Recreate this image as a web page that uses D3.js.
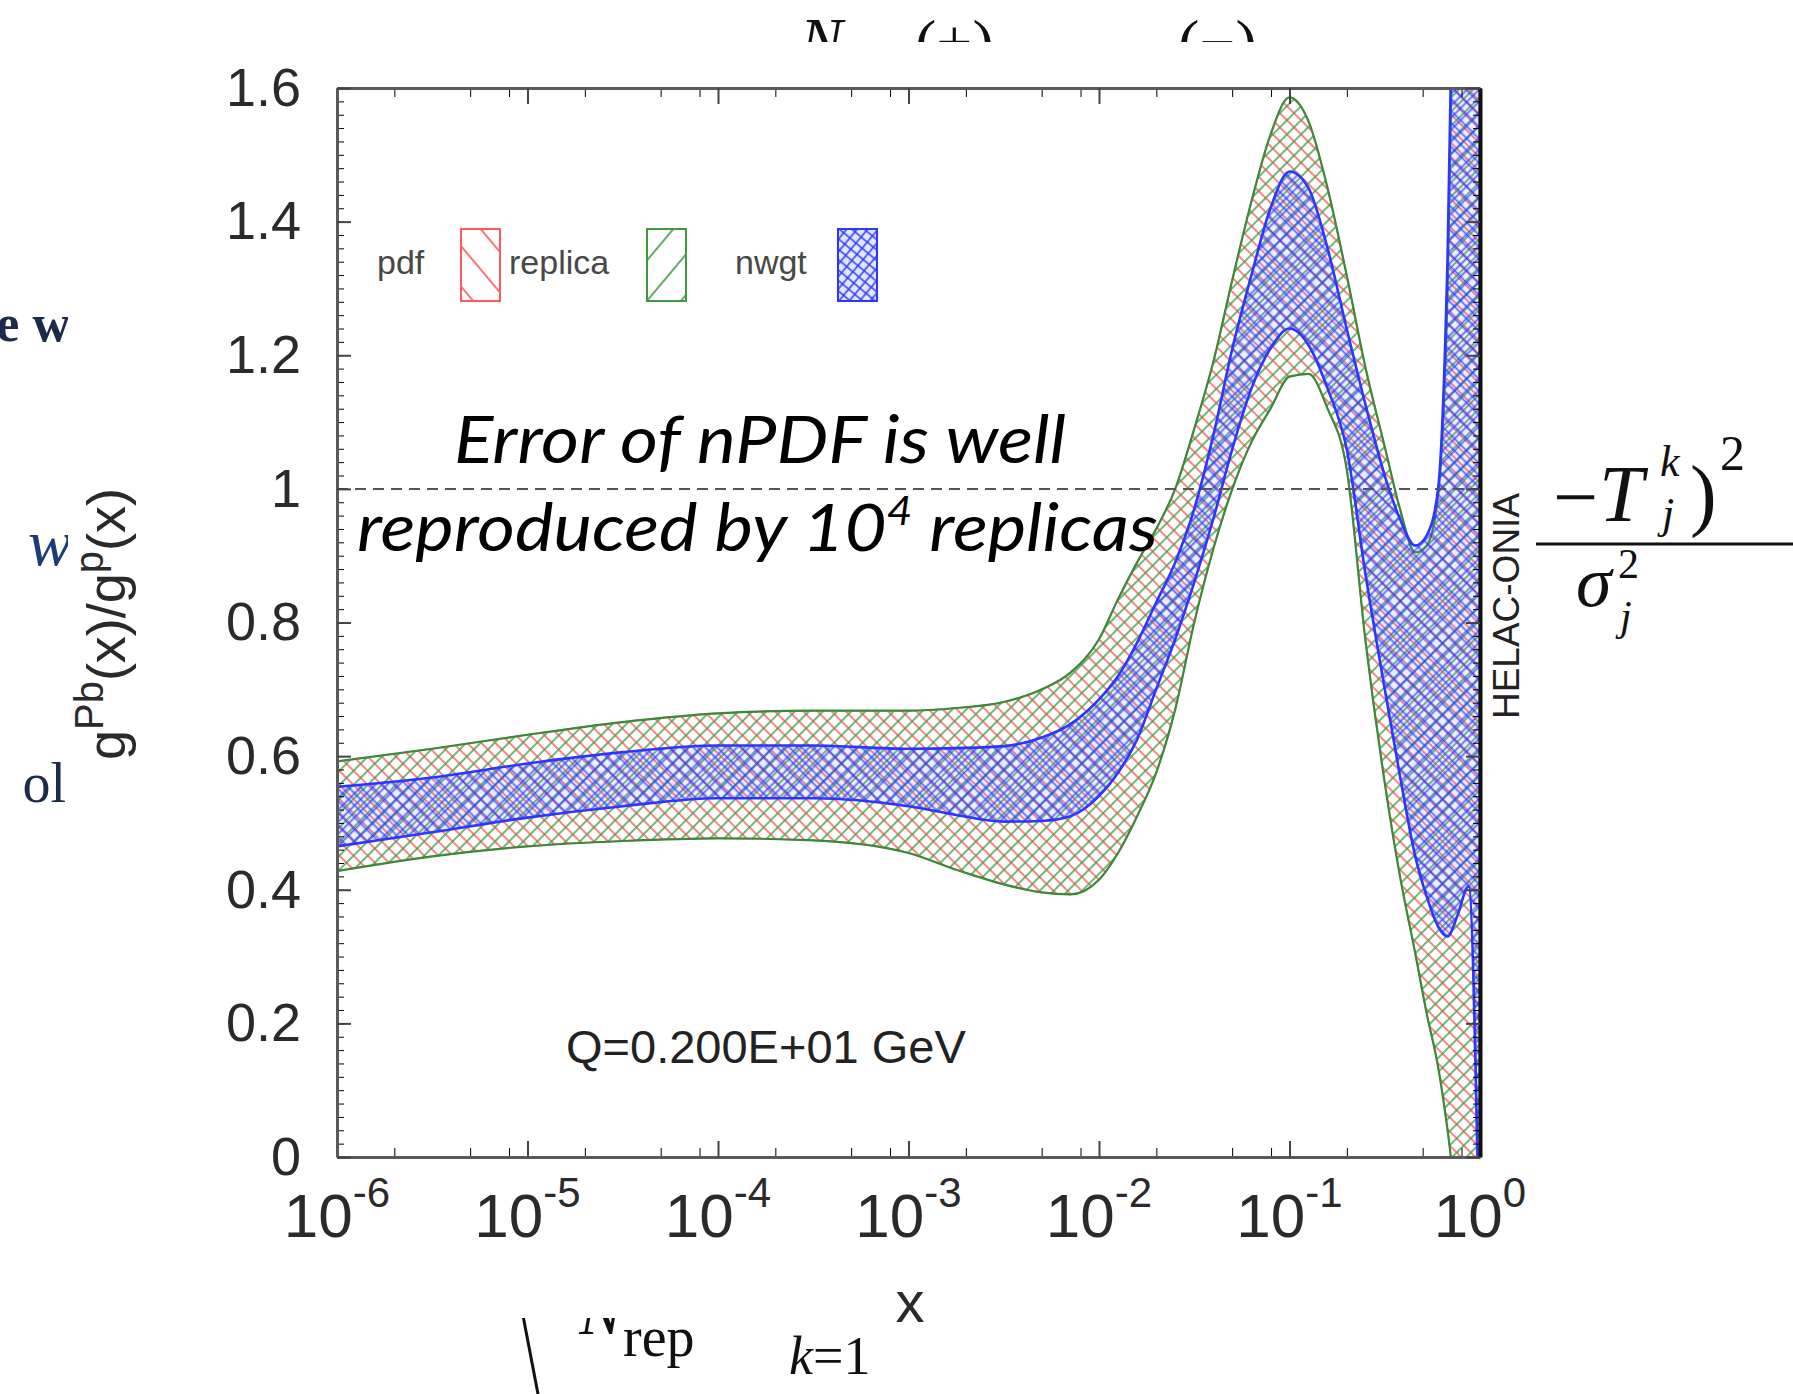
<!DOCTYPE html>
<html>
<head>
<meta charset="utf-8">
<title>g Pb / g p ratio</title>
<script src="https://cdn.jsdelivr.net/npm/d3@7"></script>
<style>
  body { margin: 0; background: #fff; }
  svg { font-family: "Liberation Sans", Arial, sans-serif; }
</style>
</head>
<body>
<svg id="chart" width="1793" height="1394"></svg>
<script>
// log10(x) grid shared by every band
const logX = [-6, -5.5, -5, -4.5, -4, -3.5, -3, -2.75, -2.5, -2.3, -2.15, -2, -1.9, -1.8, -1.7, -1.6, -1.5, -1.4,
  -1.3, -1.2, -1.1, -1, -0.9, -0.8, -0.7, -0.6, -0.5, -0.42, -0.34, -0.28, -0.22, -0.17, -0.12, -0.06, 0];

// pdf error band (the replica band lies on top of it)
const pdfHigh = [0.592, 0.611, 0.632, 0.651, 0.664, 0.668, 0.668, 0.672, 0.681, 0.700, 0.725, 0.775, 0.835, 0.89,
  0.94, 1.00, 1.09, 1.19, 1.313, 1.43, 1.53, 1.586, 1.55, 1.45, 1.32, 1.18, 1.063, 0.97, 0.905, 0.915, 0.99, 1.3,
  2.1, 2.7, 3.2];
const pdfLow = [0.428, 0.45, 0.465, 0.473, 0.477, 0.474, 0.455, 0.43, 0.408, 0.396, 0.393, 0.415, 0.455, 0.51,
  0.575, 0.67, 0.80, 0.91, 1.0, 1.07, 1.12, 1.168, 1.172, 1.12, 1.03, 0.77, 0.56, 0.42, 0.305, 0.215, 0.135, 0.04,
  -0.08, -0.2, -0.3];

// reweighted band
const nwgtHigh = [0.554, 0.568, 0.589, 0.606, 0.616, 0.616, 0.611, 0.612, 0.615, 0.628, 0.648, 0.685, 0.72, 0.77,
  0.83, 0.89, 0.97, 1.08, 1.21, 1.32, 1.42, 1.475, 1.45, 1.36, 1.24, 1.125, 1.02, 0.955, 0.915, 0.93, 1.0, 1.35,
  2.15, 2.7, 3.2];
const nwgtLow = [0.465, 0.486, 0.508, 0.525, 0.537, 0.537, 0.525, 0.512, 0.502, 0.503, 0.51, 0.54, 0.575, 0.625,
  0.70, 0.775, 0.86, 0.955, 1.06, 1.15, 1.21, 1.24, 1.215, 1.15, 1.06, 0.87, 0.70, 0.57, 0.45, 0.39, 0.345, 0.33,
  0.36, 0.405, -0.2];

const yTicks = [0, 0.2, 0.4, 0.6, 0.8, 1, 1.2, 1.4, 1.6];
const xDecades = [-6, -5, -4, -3, -2, -1, 0];
const minorMult = [2, 5, 8];
const legendNames = ['pdf', 'replica', 'nwgt'];

const svg = d3.select('#chart');
const defs = svg.append('defs');

// Scales
const x = d3.scaleLog().domain([1e-6, 1]).range([337, 1480]);
const y = d3.scaleLinear().domain([0, 1.6]).range([1157, 88]);

// Hatch patterns
function addHatch(id, color, size, width, angle, cross, bg) {
  const p = defs.append('pattern')
    .attr('id', id)
    .attr('patternUnits', 'userSpaceOnUse')
    .attr('width', size)
    .attr('height', size)
    .attr('patternTransform', `rotate(${angle})`);
  if (bg) p.append('rect').attr('width', size).attr('height', size).attr('fill', bg);
  p.append('line')
    .attr('x1', size / 2).attr('y1', 0).attr('x2', size / 2).attr('y2', size)
    .attr('stroke', color).attr('stroke-width', width);
  if (cross) {
    p.append('line')
      .attr('x1', 0).attr('y1', size / 2).attr('x2', size).attr('y2', size / 2)
      .attr('stroke', color).attr('stroke-width', width);
  }
}
addHatch('h-pdf', '#ff5a5a', 10, 1.5, -45);
addHatch('h-rep', '#46a046', 10, 1.5, 45);
addHatch('h-rw', 'rgba(40,60,255,0.72)', 8.5, 1.8, 45, true, 'rgba(120,140,255,0.14)');
addHatch('h-pdf-key', '#ff5050', 26, 1.6, -40);
addHatch('h-rep-key', '#3c963c', 26, 1.6, 40);
addHatch('h-rw-key', 'rgba(40,60,255,0.75)', 8, 2, 40, true, 'rgba(110,130,255,0.2)');

defs.append('clipPath').attr('id', 'plot-clip')
  .append('rect')
  .attr('x', x.range()[0]).attr('y', y.range()[1])
  .attr('width', x.range()[1] - x.range()[0])
  .attr('height', y.range()[0] - y.range()[1]);

// Rows for the areas
const rows = logX.map((lx, i) => ({
  x: Math.pow(10, lx),
  pdfLo: pdfLow[i], pdfHi: pdfHigh[i],
  rwLo: nwgtLow[i], rwHi: nwgtHigh[i]
}));

const pdfArea = d3.area().curve(d3.curveMonotoneX)
  .x(d => x(d.x)).y0(d => y(d.pdfLo)).y1(d => y(d.pdfHi));
const rwArea = d3.area().curve(d3.curveMonotoneX)
  .x(d => x(d.x)).y0(d => y(d.rwLo)).y1(d => y(d.rwHi));

const bands = svg.append('g').attr('clip-path', 'url(#plot-clip)');
bands.append('path').attr('d', pdfArea(rows)).attr('fill', 'url(#h-pdf)')
  .attr('stroke', '#ff7070').attr('stroke-width', 1.5);
bands.append('path').attr('d', pdfArea(rows)).attr('fill', 'url(#h-rep)')
  .attr('stroke', '#3a8a3a').attr('stroke-width', 2.2);
bands.append('path').attr('d', rwArea(rows)).attr('fill', 'url(#h-rw)')
  .attr('stroke', '#2b36ff').attr('stroke-width', 2.6);

// Dashed reference line at 1
svg.append('line')
  .attr('x1', x.range()[0]).attr('x2', x.range()[1])
  .attr('y1', y(1)).attr('y2', y(1))
  .attr('stroke', '#555').attr('stroke-width', 2).attr('stroke-dasharray', '11,7');

// Axes (ticks point inward)
const majorX = xDecades.map(p => Math.pow(10, p));
const minorX = [];
xDecades.slice(0, -1).forEach(p => minorMult.forEach(m => minorX.push(m * Math.pow(10, p))));
const minorY = d3.range(0, 1.6001, 0.02);

function styleAxis(g, color, w) {
  g.select('.domain').attr('stroke', color).attr('stroke-width', w);
  g.selectAll('.tick line').attr('stroke', '#444').attr('stroke-width', 2);
}

const yFmt = d => String(+d.toFixed(1));

svg.append('g').attr('transform', `translate(0,${y(0)})`)
  .call(d3.axisBottom(x).tickValues(minorX).tickSize(-9).tickSizeOuter(0).tickFormat(''))
  .call(g => g.select('.domain').remove());
svg.append('g').attr('transform', `translate(0,${y(0)})`)
  .call(d3.axisBottom(x).tickValues(majorX).tickSize(-16).tickSizeOuter(0).tickFormat(''))
  .call(g => styleAxis(g, '#5a5a5a', 3));

svg.append('g').attr('transform', `translate(0,${y(1.6)})`)
  .call(d3.axisTop(x).tickValues(minorX).tickSize(-9).tickSizeOuter(0).tickFormat(''))
  .call(g => g.select('.domain').remove());
svg.append('g').attr('transform', `translate(0,${y(1.6)})`)
  .call(d3.axisTop(x).tickValues(majorX).tickSize(-16).tickSizeOuter(0).tickFormat(''))
  .call(g => styleAxis(g, '#5a5a5a', 3));

svg.append('g').attr('transform', `translate(${x(1e-6)},0)`)
  .call(d3.axisLeft(y).tickValues(minorY).tickSize(-7).tickSizeOuter(0).tickFormat(''))
  .call(g => g.select('.domain').remove());
svg.append('g').attr('transform', `translate(${x(1e-6)},0)`)
  .call(d3.axisLeft(y).tickValues(yTicks).tickSize(-14).tickSizeOuter(0).tickPadding(36).tickFormat(yFmt))
  .call(g => styleAxis(g, '#5a5a5a', 3))
  .call(g => g.selectAll('.tick text')
    .attr('fill', '#2a2a2a')
    .style('font-size', '54px')
    .style('font-family', '"Liberation Sans", Arial, sans-serif'));

svg.append('g').attr('transform', `translate(${x(1)},0)`)
  .call(d3.axisRight(y).tickValues(minorY).tickSize(-7).tickSizeOuter(0).tickFormat(''))
  .call(g => g.select('.domain').remove());
svg.append('g').attr('transform', `translate(${x(1)},0)`)
  .call(d3.axisRight(y).tickValues(yTicks).tickSize(-14).tickSizeOuter(0).tickFormat(''))
  .call(g => styleAxis(g, '#111', 4));

// x tick labels 10^n
const xLab = svg.append('g').selectAll('text')
  .data(xDecades)
  .enter()
  .append('text')
  .attr('x', d => x(Math.pow(10, d)))
  .attr('y', 1237)
  .attr('text-anchor', 'middle')
  .attr('fill', '#2a2a2a')
  .style('font-size', '62px');
xLab.append('tspan').text('10');
xLab.append('tspan').attr('dy', -30).style('font-size', '42px').text(d => String(d));

// Axis titles
svg.append('text')
  .attr('x', 910).attr('y', 1322)
  .attr('text-anchor', 'middle')
  .attr('fill', '#2a2a2a')
  .style('font-size', '58px')
  .text('x');

const yTitle = svg.append('text')
  .attr('transform', 'translate(125,624) rotate(-90)')
  .attr('text-anchor', 'middle')
  .attr('fill', '#2a2a2a')
  .style('font-size', '54px');
yTitle.append('tspan').text('g');
yTitle.append('tspan').attr('dy', -22).style('font-size', '40px').text('Pb');
yTitle.append('tspan').attr('dy', 22).text('(x)/g');
yTitle.append('tspan').attr('dy', -22).style('font-size', '40px').text('p');
yTitle.append('tspan').attr('dy', 22).text('(x)');

// Legend
const legendText = [{ name: legendNames[0], x: 377 }, { name: legendNames[1], x: 509 }, { name: legendNames[2], x: 735 }];
svg.append('g').selectAll('text')
  .data(legendText)
  .enter()
  .append('text')
  .attr('x', d => d.x)
  .attr('y', 274)
  .attr('fill', '#484848')
  .style('font-size', '34px')
  .text(d => d.name);

const legendKeys = [
  { x: 461, fill: 'url(#h-pdf-key)', stroke: '#ff5a5a' },
  { x: 647, fill: 'url(#h-rep-key)', stroke: '#3f9a3f' },
  { x: 838, fill: 'url(#h-rw-key)', stroke: '#2b36ff' }
];
svg.append('g').selectAll('rect')
  .data(legendKeys)
  .enter()
  .append('rect')
  .attr('x', d => d.x)
  .attr('y', 229)
  .attr('width', 39)
  .attr('height', 72)
  .attr('fill', d => d.fill)
  .attr('stroke', d => d.stroke)
  .attr('stroke-width', 2);

// Scale label and program tag
svg.append('text')
  .attr('x', 566).attr('y', 1063)
  .attr('fill', '#222')
  .style('font-size', '47px')
  .text('Q=0.200E+01 GeV');

svg.append('text')
  .attr('transform', 'translate(1519,606) rotate(-90)')
  .attr('text-anchor', 'middle')
  .attr('fill', '#222')
  .style('font-size', '37px')
  .text('HELAC-ONIA');

// Slide annotation
const note = svg.append('g')
  .style('font-family', 'Lato, "Open Sans", sans-serif')
  .style('font-style', 'italic')
  .attr('fill', '#000');
note.append('text')
  .attr('x', 454).attr('y', 463)
  .attr('textLength', 612).attr('lengthAdjust', 'spacingAndGlyphs')
  .style('font-size', '66px')
  .text('Error of nPDF is well');
const line2 = note.append('text')
  .attr('x', 357).attr('y', 551)
  .attr('textLength', 801).attr('lengthAdjust', 'spacingAndGlyphs')
  .style('font-size', '66px');
line2.append('tspan').text('reproduced by 10');
line2.append('tspan').attr('dy', -26).style('font-size', '40px').text('4');
line2.append('tspan').attr('dy', 26).text(' replicas');

// Fragments of the slide behind the pasted plot
defs.append('clipPath').attr('id', 'clip-top').append('rect').attr('width', 1793).attr('height', 42);
defs.append('clipPath').attr('id', 'clip-left').append('rect').attr('width', 68).attr('height', 1394);
defs.append('clipPath').attr('id', 'clip-right').append('rect').attr('x', 1533).attr('width', 260).attr('height', 1394);
defs.append('clipPath').attr('id', 'clip-bottom').append('rect').attr('y', 1318).attr('width', 1793).attr('height', 76);

const serif = '"Liberation Serif", "DejaVu Serif", serif';

const fragTop = svg.append('g').attr('clip-path', 'url(#clip-top)')
  .style('font-family', serif).attr('fill', '#111');
fragTop.append('text').attr('x', 800).attr('y', 62).style('font-size', '64px').style('font-style', 'italic').text('N');
fragTop.append('text').attr('x', 915).attr('y', 64).style('font-size', '64px').text('(+)');
fragTop.append('text').attr('x', 1178).attr('y', 64).style('font-size', '64px').text('(−)');

const fragLeft = svg.append('g').attr('clip-path', 'url(#clip-left)')
  .style('font-family', serif).attr('fill', '#1c2a4c');
fragLeft.append('text').attr('x', 70).attr('y', 341).attr('text-anchor', 'end').style('font-size', '52px')
  .style('font-weight', 'bold').text('e w');
fragLeft.append('text').attr('x', 72).attr('y', 565).attr('text-anchor', 'end').style('font-size', '66px')
  .style('font-style', 'italic').attr('fill', '#1d3b78').text('w');
fragLeft.append('text').attr('x', 66).attr('y', 802).attr('text-anchor', 'end').style('font-size', '56px').text('ol');

const fragRight = svg.append('g').attr('clip-path', 'url(#clip-right)')
  .style('font-family', serif).attr('fill', '#111');
fragRight.append('text').attr('x', 1553).attr('y', 524).style('font-size', '80px').text('−');
fragRight.append('text').attr('x', 1599).attr('y', 521).style('font-size', '80px').style('font-style', 'italic').text('T');
fragRight.append('text').attr('x', 1660).attr('y', 476).style('font-size', '44px').style('font-style', 'italic').text('k');
fragRight.append('text').attr('x', 1662).attr('y', 528).style('font-size', '44px').style('font-style', 'italic').text('j');
fragRight.append('text').attr('x', 1690).attr('y', 521).style('font-size', '80px').text(')');
fragRight.append('text').attr('x', 1720).attr('y', 470).style('font-size', '50px').text('2');
fragRight.append('line').attr('x1', 1536).attr('x2', 1793).attr('y1', 544).attr('y2', 544)
  .attr('stroke', '#111').attr('stroke-width', 3);
fragRight.append('text').attr('x', 1576).attr('y', 606).style('font-size', '72px').style('font-style', 'italic').text('σ');
fragRight.append('text').attr('x', 1618).attr('y', 578).style('font-size', '42px').text('2');
fragRight.append('text').attr('x', 1620).attr('y', 630).style('font-size', '42px').style('font-style', 'italic').text('j');

const fragBottom = svg.append('g').attr('clip-path', 'url(#clip-bottom)')
  .style('font-family', serif).attr('fill', '#111');
fragBottom.append('line').attr('x1', 520).attr('y1', 1300).attr('x2', 538).attr('y2', 1394)
  .attr('stroke', '#111').attr('stroke-width', 3);
fragBottom.append('text').attr('x', 622).attr('y', 1334).attr('text-anchor', 'end').style('font-size', '64px')
  .style('font-style', 'italic').text('N');
fragBottom.append('text').attr('x', 623).attr('y', 1356).style('font-size', '56px').text('rep');
const kEq = fragBottom.append('text').attr('x', 789).attr('y', 1374).style('font-size', '54px');
kEq.append('tspan').style('font-style', 'italic').text('k');
kEq.append('tspan').text('=1');
</script>
</body>
</html>
